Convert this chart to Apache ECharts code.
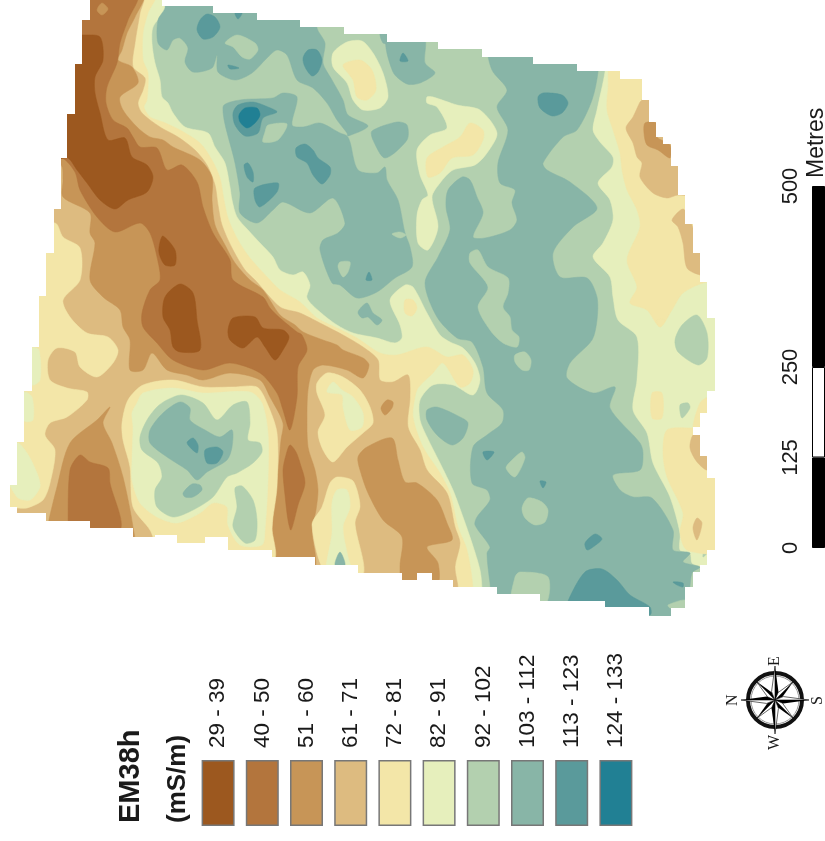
<!DOCTYPE html>
<html><head><meta charset="utf-8">
<style>html,body{margin:0;padding:0;background:#fff}#c{width:825px;height:841px}</style>
<script src="https://cdn.jsdelivr.net/npm/echarts@6/dist/echarts.min.js"></script></head>
<body><div id="c"></div>
<script>
const classLabels=['29 - 39','40 - 50','51 - 60','61 - 71','72 - 81','82 - 91','92 - 102','103 - 112','113 - 123','124 - 133'];
const classColors=['#9C581F','#B3753D','#C79557','#DDBB80','#F3E6A8','#E6EFBC','#B3D0AF','#88B5A7','#5A9A9B','#218094'];
const scaleSegments=[125,125,250];
const scaleTicks=[0,125,250,500];
// map outline and contour regions, in map units
const field=[90,0,162,0,162,6,213,6,213,13,257,13,257,20,300,20,300,27,344,27,344,34,387,34,387,42,438,42,438,49,482,49,482,57,533,57,533,64,577,64,577,71,620,71,620,79,642,79,642,100,649,100,649,122,656,122,656,137,663,137,663,144,671,144,671,166,678,166,678,195,685,195,685,224,693,224,693,253,700,253,700,282,707,282,707,318,715,318,715,391,707,391,707,413,700,413,700,427,693,427,693,435,700,435,700,456,707,456,707,478,715,478,715,550,707,550,707,565,700,565,700,572,693,572,693,587,685,587,685,608,671,608,671,616,649,616,649,607,605,607,605,601,540,601,540,594,497,594,497,587,453,587,453,580,432,580,432,573,417,573,417,580,402,580,402,573,358,573,358,565,315,565,315,557,272,557,272,550,228,550,228,537,205,537,205,543,177,543,177,535,155,535,155,537,133,537,133,528,90,528,90,521,46,521,46,513,17,513,17,507,10,507,10,485,17,485,17,442,24,442,24,391,32,391,32,347,39,347,39,296,46,296,46,253,54,253,54,209,61,209,61,158,67,158,67,114,75,114,75,64,82,64,82,20,90,20];
const w5=[165,-5,165,10,153,27,152,43,155,63,160,80,162,97,168,103,173,113,185,127,208,133,215,147,225,163,230,187,232,200,237,217,248,230,260,243,273,257,280,270,293,275,303,272,310,285,307,298,320,312,337,325,353,333,377,338,395,343,402,338,400,325,390,300,405,285,413,287,427,313,440,335,450,342,463,348,475,363,480,380,473,395,453,385,433,385,420,400,420,420,427,437,440,463,453,490,463,517,472,543,480,570,482,590,480,640,0,640,0,-5];
const w4=[155,-5,148,13,143,33,143,60,148,73,147,100,144,107,150,117,163,122,180,130,200,143,212,160,220,178,224,200,228,218,238,240,250,258,270,280,280,290,300,302,317,318,337,328,357,338,380,353,397,355,427,347,447,357,463,355,473,370,470,383,460,387,443,363,433,373,418,388,415,397,413,417,423,447,440,473,450,493,458,527,467,550,473,590,470,640,0,640,0,-5];
const w3=[143,-5,140,13,135,43,133,67,145,78,143,90,138,103,142,113,160,127,178,137,195,150,207,165,215,185,218,205,222,225,232,248,245,270,255,280,280,307,300,313,320,323,343,335,363,347,378,360,380,380,393,382,408,375,410,397,408,427,420,450,427,470,447,493,455,527,460,543,455,567,458,590,450,640,0,640,0,-5];
const w4west=[0,223,55,223,63,237,80,248,80,280,63,300,70,317,87,333,108,337,118,350,113,363,97,377,80,367,75,352,57,348,48,360,50,380,67,388,87,392,87,400,67,417,50,423,45,435,55,450,50,483,43,500,27,508,17,508,0,508];
const w5a=[17,443,27,453,37,473,40,487,30,500,17,497,5,470];
const w5b=[24,392,32,397,33,420,24,421,15,405];
const w5c=[32,348,39,350,40,380,32,385,22,365];
const w2=[143,-5,135,17,127,33,122,50,118,60,132,67,138,83,120,97,123,110,137,127,150,137,163,140,173,147,200,160,212,177,212,200,215,225,225,245,235,263,250,280,263,290,280,315,295,325,303,332,323,340,337,345,343,350,363,358,369,365,363,378,347,370,323,365,313,370,308,390,307,417,308,447,315,470,318,490,316,510,312,530,314,570,270,570,273,525,273,490,278,470,281,440,283,423,270,397,260,380,230,373,203,380,187,375,167,370,152,353,143,370,130,370,130,340,123,327,120,310,103,297,90,280,95,243,90,233,90,213,63,197,63,180,61,165,40,160,40,-5];
const w1=[137,-5,128,20,120,43,117,63,107,87,106,103,113,120,127,128,133,137,140,147,157,148,167,170,182,165,197,182,203,207,213,233,230,260,233,280,263,297,270,308,280,318,297,332,302,335,307,350,298,367,297,397,290,430,283,410,277,393,260,373,230,363,203,370,173,360,157,343,143,327,142,313,150,290,160,280,157,257,150,233,140,223,115,232,97,217,80,190,75,172,62,158,40,158,40,-5];
const lobe1=[290,445,296,452,300,463,305,483,298,505,291,530,288,520,285,495,283,470,286,455];
const top2=[97,10,102,3,108,9,102,15];
const d0a=[83,35,100,37,103,60,95,77,95,93,100,113,108,140,125,138,132,157,147,165,153,177,147,192,128,200,115,209,100,200,87,183,77,170,68,158,55,158,55,35];
const d0b=[163,236,175,250,175,265,165,265,159,253,160,242];
const d0c=[180,284,193,293,197,320,200,350,180,352,173,347,170,330,163,317,165,297];
const d0d=[233,318,255,317,263,328,283,330,289,337,283,350,275,360,265,347,257,337,243,348,230,340,228,330];
const sw2=[47,530,57,487,70,443,97,420,110,407,103,423,112,443,123,477,133,527,133,545,47,545];
const sw1=[68,530,70,470,80,455,90,462,108,468,110,483,120,530,68,535];
const ring4=[143,385,173,380,203,387,233,387,257,387,267,403,277,433,277,487,272,527,273,560,165,560,150,530,133,507,130,467,123,440,122,423,128,400];
const ring5=[143,393,173,388,203,393,250,392,262,403,268,433,268,480,265,530,262,545,240,545,228,525,227,507,213,503,200,513,177,523,157,517,140,503,132,480,132,460,133,427,132,413,137,403];
const ring6=[167,400,182,395,203,403,217,420,233,405,247,402,250,423,248,440,260,443,262,452,253,463,237,473,227,477,213,497,193,510,173,517,157,507,155,490,162,477,158,463,142,450,140,437,147,420,157,407];
const ring7=[180,402,190,408,190,420,205,430,220,437,232,430,232,447,227,460,207,472,197,480,187,470,167,457,150,443,150,430,163,413];
const ring8a=[187,443,193,438,198,445,197,453];
const ring8b=[205,450,217,447,223,452,217,463,207,463];
const ring7b=[183,493,192,484,200,485,202,490,193,497,185,497];
const ring6b=[235,488,242,486,253,500,257,520,255,540,245,543,233,527,237,507];
const mid4=[317,383,327,373,343,377,360,390,370,407,373,423,363,433,347,447,333,462,323,450,318,432,325,415,317,393];
const mid5=[333,382,342,390,353,397,363,413,362,427,350,430,343,407,342,395,327,392];
const mid2=[387,400,393,402,392,408,385,415,381,408];
const s2=[358,457,367,447,392,438,398,460,405,482,417,483,437,500,447,523,452,540,427,547,438,563,437,585,403,585,400,567,402,537,383,520,368,493,360,470];
const s4=[337,477,352,480,357,490,360,507,355,523,363,575,327,575,312,525,322,507,330,483];
const s5=[337,490,347,490,350,507,343,527,348,557,352,575,327,575,332,533,332,503];
const s7=[340,552,345,565,335,565];
const i7=[427,410,437,407,460,417,468,423,463,438,452,445,437,435,427,420];
const e5=[605,60,605,72,597,110,593,130,600,142,613,157,612,167,598,183,610,200,613,220,603,243,593,257,610,277,613,297,618,320,637,337,637,380,633,410,647,433,653,463,670,497,680,533,680,550,690,553,692,563,700,567,730,590,740,60];
const e6a=[697,315,707,333,707,358,698,365,678,352,675,340,682,325];
const e6b=[680,405,688,403,690,408,682,418];
const e6c=[704,551,707,553,703,557];
const e4=[613,60,608,90,607,110,613,130,620,153,622,170,627,190,637,210,640,227,627,260,637,287,630,303,647,310,660,327,672,310,683,293,707,282,740,282,740,60];
const e4b=[667,430,692,428,720,430,720,550,687,550,680,533,683,513,667,477,663,453];
const e4c=[652,393,662,393,662,418,652,418];
const e4d=[707,398,707,413,700,427,693,427,700,403];
const e4e=[657,320,665,320,660,327];
const e3=[627,70,650,70,642,100,640,102,633,117,626,128,633,143,637,157,642,163,640,177,653,193,667,198,678,195,730,195,730,70];
const e3b=[672,220,683,209,690,220,700,250,710,275,700,275,687,268,683,243,678,227];
const e3c=[693,435,700,435,707,457,707,470,697,462,690,448];
const e3d=[697,518,702,523,697,540,693,528];
const e2=[645,123,656,123,657,137,670,145,670,158,658,150,647,145,644,133];
const main7=[490,50,598,50,598,72,592,100,577,130,563,137,543,163,547,170,570,182,597,208,573,227,553,253,560,277,587,278,597,297,597,320,592,340,570,363,567,378,593,393,615,387,610,408,640,443,643,453,640,470,613,475,620,490,633,497,652,498,673,530,673,550,690,553,683,562,700,567,692,573,687,607,670,630,497,630,490,583,487,553,490,547,475,525,477,517,490,500,487,490,472,483,473,447,487,435,502,423,503,410,487,393,483,367,472,342,457,338,437,317,425,283,438,257,450,230,446,207,448,190,462,177,470,180,477,197,483,213,473,237,485,238,510,230,517,220,512,203,515,190,500,183,498,163,508,130,497,107,507,90,492,70];
const m6a=[470,253,478,250,488,267,508,278,508,293,503,307,510,317,512,330,519,337,517,347,503,343,490,330,478,307,488,287,470,263];
const m6b=[515,355,525,352,531,360,529,370,522,370,515,362];
const m6c=[522,452,525,458,515,477,506,468,512,460];
const m6d=[528,498,542,502,548,510,545,522,535,525,525,518,522,508];
const m6e=[520,572,548,577,545,605,512,605,515,577];
const m6f=[668,605,685,600,685,608,670,608];
const m8a=[483,452,494,452,487,460];
const m8b=[540,481,546,482,543,488];
const m8c=[585,543,595,534,602,539,593,547,587,550];
const m8d=[568,601,585,572,602,569,617,580,630,595,650,607,650,615,605,615,568,610];
const m8e=[673,582,683,583,683,587,677,585];
const m8f=[538,97,543,93,562,95,568,103,562,113,552,116,540,108];
const n7=[165,-5,316,-5,317,28,325,43,323,63,332,80,343,100,348,115,368,126,348,136,347,133,337,120,327,103,313,88,297,80,287,55,277,50,267,58,252,73,235,80,218,72,217,55,212,68,193,72,185,62,188,48,180,38,173,40,167,50,158,43,158,20,165,8];
const c7=[223,107,240,100,273,98,283,93,297,97,292,125,303,127,320,123,340,133,347,136,350,142,358,170,377,173,385,167,387,180,398,200,405,233,410,247,412,267,395,278,377,292,357,298,340,285,332,283,320,250,323,240,338,233,345,223,333,198,310,213,283,202,273,210,257,223,240,213,240,193,235,163];
const n6=[225,43,237,35,255,43,258,50,250,59,242,57,233,47];
const n8a=[207,14,215,17,220,27,213,37,203,39,197,30,200,20];
const n8b=[235,13,242,13,238,19];
const n8c=[308,50,317,50,322,60,318,72,312,76,305,67,303,58];
const n8d=[228,65,239,68,230,69];
const ne7=[387,38,424,38,425,63,435,73,420,83,407,84,393,72];
const ne7b=[380,33,388,33,388,43,383,43];
const ne8=[403,53,408,61,400,61];
const isl7=[372,131,397,122,407,125,407,140,385,158,373,140];
const blob5=[347,42,362,41,373,53,383,73,388,97,380,108,363,110,353,100,347,83,333,67,333,53];
const blob4=[343,65,360,60,372,70,376,90,367,100,357,97,353,80];
const lobe5=[427,97,433,97,457,105,480,110,497,133,487,153,475,165,453,170,440,183,432,197,438,227,428,250,418,243,417,215,422,200,428,195,420,175,417,150,430,135,447,128,437,107,427,103];
const lobe4=[470,123,483,130,483,140,473,155,452,158,440,173,428,177,427,158,443,147,460,137];
const peak4=[405,300,413,300,417,308,412,316,405,313];
const c6a=[340,262,350,262,348,272,343,277,338,267];
const c8a=[369,272,372,280,366,280];
const c7a=[358,312,367,303,373,313,382,320,377,325,368,317,362,318];
const c6b=[392,234,400,232,406,235,400,238];
const dark8=[233,113,238,105,253,102,268,107,277,112,263,118,258,133,245,136,235,125];
const dark9=[239,115,245,108,257,108,260,115,255,123,247,128,240,122];
const c6c=[268,125,287,124,278,140,263,142,265,132];
const c8b=[296,148,305,144,313,150,318,158,330,167,330,175,322,184,313,175,307,163,297,157];
const c8c=[244,165,248,163,253,172,253,182,247,177];
const c8d=[255,188,278,183,277,192,260,207,255,200];
// paint order: class index, region
const layers=[[6,field],[5,w5],[4,w4],[3,w3],[4,w4west],[5,w5a],[5,w5b],[5,w5c],[2,w2],[1,w1],[1,lobe1],[2,top2],[0,d0a],[0,d0b],[0,d0c],[0,d0d],[2,sw2],[1,sw1],[4,ring4],[5,ring5],[6,ring6],[7,ring7],[8,ring8a],[8,ring8b],[7,ring7b],[6,ring6b],[4,mid4],[5,mid5],[2,mid2],[2,s2],[4,s4],[5,s5],[7,s7],[7,i7],[5,e5],[6,e6a],[6,e6b],[6,e6c],[4,e4],[4,e4b],[4,e4c],[4,e4d],[4,e4e],[3,e3],[3,e3b],[3,e3c],[3,e3d],[2,e2],[7,main7],[6,m6a],[6,m6b],[6,m6c],[6,m6d],[6,m6e],[6,m6f],[8,m8a],[8,m8b],[8,m8c],[8,m8d],[8,m8e],[8,m8f],[7,n7],[7,c7],[6,n6],[8,n8a],[8,n8b],[8,n8c],[8,n8d],[7,ne7],[7,ne7b],[8,ne8],[7,isl7],[5,blob5],[4,blob4],[5,lobe5],[4,lobe4],[4,peak4],[6,c6a],[8,c8a],[7,c7a],[6,c6b],[8,dark8],[9,dark9],[6,c6c],[8,c8b],[8,c8c],[8,c8d]];
function pairs(a){const o=[];for(let i=0;i<a.length;i+=2)o.push([a[i],a[i+1]]);return o;}
const chart=echarts.init(document.getElementById('c'),null,{renderer:'canvas'});
const txt=(text,x,y,size,bold,family)=>({type:'text',x,y,rotation:Math.PI/2,silent:true,style:{text,fontSize:size,fontWeight:bold?'bold':'normal',fontFamily:family||'Liberation Sans',fill:'#1a1a1a',align:'left',verticalAlign:'middle'}});
// compass rose
const cx=775,cy=700,rose=[];
rose.push({type:'circle',shape:{cx,cy,r:27},style:{fill:'none',stroke:'#111',lineWidth:4},silent:true});
rose.push({type:'circle',shape:{cx,cy,r:24},style:{fill:'none',stroke:'#999',lineWidth:1},silent:true});
for(let k=0;k<8;k++){
  const a=k*Math.PI/4,long=k%2===0,R=long?34:26,w=long?9:8;
  const t=[cx+R*Math.cos(a),cy+R*Math.sin(a)];
  const l=[cx+w*Math.cos(a+Math.PI/8),cy+w*Math.sin(a+Math.PI/8)];
  const r=[cx+w*Math.cos(a-Math.PI/8),cy+w*Math.sin(a-Math.PI/8)];
  rose.push({type:'polygon',z:long?3:2,shape:{points:[t,l,[cx,cy]]},style:{fill:'#000'},silent:true});
  rose.push({type:'polygon',z:long?3:2,shape:{points:[t,r,[cx,cy]]},style:{fill:'#fff',stroke:'#000',lineWidth:0.6},silent:true});
}
const option={
  animation:false,backgroundColor:'#fff',
  grid:[{left:0,top:0,width:825,height:841},{left:196,top:760,width:442,height:66},{left:812,top:186,width:13,height:362}],
  xAxis:[
    {gridIndex:0,type:'value',min:0,max:825,show:false},
    {gridIndex:1,type:'category',position:'top',data:classLabels,axisLine:{show:false},axisTick:{show:false},axisLabel:{rotate:90,margin:12,fontSize:22.5,color:'#1a1a1a',fontFamily:'Liberation Sans',interval:0}},
    {gridIndex:2,type:'category',data:['scale'],show:false}
  ],
  yAxis:[
    {gridIndex:0,type:'value',min:0,max:841,inverse:true,show:false},
    {gridIndex:1,type:'value',min:0,max:1,show:false},
    {gridIndex:2,type:'value',min:0,max:500,splitLine:{show:false},axisLine:{show:false},axisTick:{show:false},axisLabel:{customValues:scaleTicks,rotate:90,margin:10,fontSize:22,color:'#1a1a1a',fontFamily:'Liberation Sans'}}
  ],
  series:[
    {type:'custom',xAxisIndex:0,yAxisIndex:0,silent:true,clip:false,data:layers.map((l,i)=>[i,0]),
     renderItem:(p,api)=>{const l=layers[api.value(0)];
       const pts=pairs(l[1]).map(q=>api.coord(q));
       const clip=pairs(field).map(q=>api.coord(q));
       return {type:'polygon',clipPath:{type:'polygon',shape:{points:clip}},
         shape:{points:pts,smooth:l[1]===field?0:0.28},
         style:{fill:classColors[l[0]],stroke:classColors[l[0]],lineWidth:0.5}};}},
    {type:'bar',xAxisIndex:1,yAxisIndex:1,barWidth:33,silent:true,
     data:classColors.map(c=>({value:1,itemStyle:{color:c,borderColor:'#777',borderWidth:1.5}}))},
    ...scaleSegments.map((v,i)=>({type:'bar',xAxisIndex:2,yAxisIndex:2,stack:'scale',barWidth:13,silent:true,data:[v],
      itemStyle:{color:i===1?'#fff':'#000',borderColor:'#000',borderWidth:1}}))
  ],
  graphic:[txt('EM38h',131,823,29,true),txt('(mS/m)',178,823,26,true),txt('Metres',817,178,23),
    {type:'group',children:rose},
    txt('N',733,706,16,false,'Liberation Serif'),txt('E',775,666,16,false,'Liberation Serif'),txt('S',818,705,16,false,'Liberation Serif'),txt('W',775,750,16,false,'Liberation Serif')]
};
chart.setOption(option);
</script></body></html>
